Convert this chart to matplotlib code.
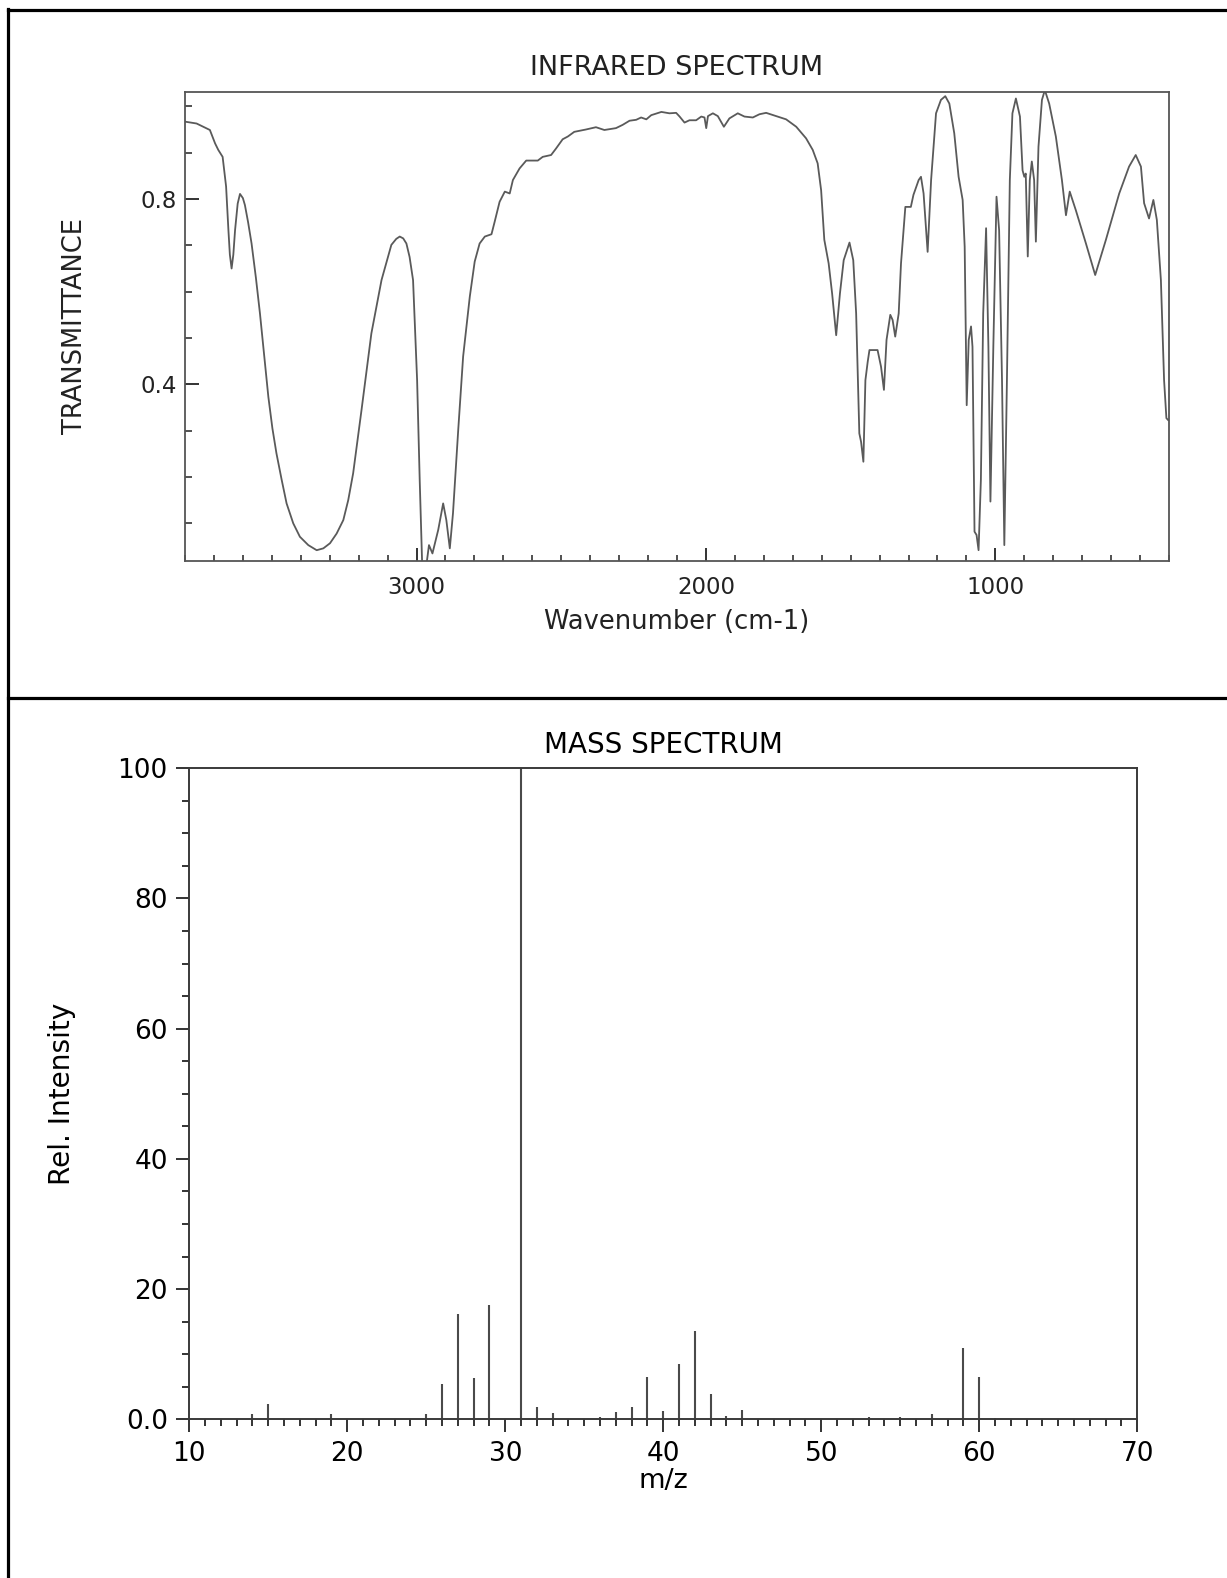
import matplotlib
matplotlib.use("Agg")
import matplotlib.pyplot as plt
from matplotlib.lines import Line2D
from matplotlib.ticker import MultipleLocator, FixedLocator, FixedFormatter

# ---------------- IR spectrum data ----------------
ir_wavenumber = [3800, 3760, 3714, 3696, 3685, 3670, 3658, 3650, 3645, 3639, 3633, 3627, 3618, 3610,
                 3600, 3593, 3582, 3570, 3555, 3541, 3527, 3512, 3498, 3484, 3466, 3449, 3426, 3403,
                 3374, 3345, 3322, 3299, 3276, 3253, 3236, 3219, 3190, 3156, 3121, 3087, 3070, 3058,
                 3046, 3035, 3024, 3012, 2998, 2989, 2980, 2968, 2957, 2945, 2925, 2908, 2897, 2885,
                 2874, 2856, 2839, 2816, 2799, 2782, 2764, 2741, 2730, 2713, 2695, 2678, 2667, 2644,
                 2621, 2581, 2564, 2535, 2518, 2495, 2477, 2455, 2415, 2380, 2351, 2311, 2288, 2264,
                 2241, 2224, 2206, 2189, 2154, 2126, 2103, 2091, 2074, 2057, 2034, 2016, 2005, 1999,
                 1993, 1976, 1959, 1938, 1919, 1890, 1867, 1838, 1815, 1792, 1757, 1723, 1688, 1654,
                 1631, 1614, 1602, 1591, 1576, 1564, 1550, 1537, 1524, 1504, 1491, 1481, 1470, 1464,
                 1456, 1449, 1441, 1435, 1407, 1395, 1385, 1376, 1363, 1355, 1346, 1334, 1326, 1311,
                 1292, 1283, 1265, 1257, 1248, 1234, 1222, 1205, 1188, 1173, 1159, 1142, 1127, 1113,
                 1106, 1099, 1092, 1084, 1079, 1072, 1065, 1058, 1050, 1042, 1032, 1024, 1017, 1007,
                 996, 987, 977, 969, 960, 950, 941, 929, 915, 906, 900, 895, 888, 881, 874, 866, 860,
                 851, 839, 829, 814, 791, 770, 756, 743, 722, 687, 655, 618, 572, 538, 515, 497, 486,
                 469, 454, 442, 428, 417, 409, 403]
ir_transmittance = [0.967, 0.963, 0.949, 0.920, 0.906, 0.891, 0.827, 0.733, 0.680, 0.650, 0.680, 0.733,
                    0.790, 0.811, 0.802, 0.787, 0.750, 0.704, 0.630, 0.553, 0.465, 0.373, 0.305, 0.251,
                    0.194, 0.143, 0.100, 0.071, 0.053, 0.042, 0.046, 0.057, 0.078, 0.107, 0.150, 0.208,
                    0.345, 0.510, 0.625, 0.701, 0.714, 0.719, 0.715, 0.704, 0.675, 0.625, 0.409, 0.193,
                    0.000, 0.000, 0.053, 0.035, 0.086, 0.143, 0.107, 0.046, 0.122, 0.301, 0.460, 0.589,
                    0.665, 0.704, 0.719, 0.724, 0.751, 0.794, 0.816, 0.812, 0.841, 0.866, 0.883, 0.883,
                    0.891, 0.895, 0.909, 0.929, 0.935, 0.945, 0.950, 0.955, 0.949, 0.953, 0.960, 0.969,
                    0.971, 0.976, 0.972, 0.981, 0.988, 0.985, 0.986, 0.978, 0.965, 0.970, 0.970, 0.978,
                    0.976, 0.953, 0.979, 0.985, 0.979, 0.956, 0.974, 0.985, 0.978, 0.976, 0.983, 0.986,
                    0.979, 0.972, 0.956, 0.931, 0.906, 0.877, 0.819, 0.712, 0.661, 0.596, 0.506, 0.596,
                    0.668, 0.706, 0.668, 0.553, 0.294, 0.276, 0.233, 0.409, 0.449, 0.474, 0.474, 0.438,
                    0.388, 0.496, 0.550, 0.539, 0.503, 0.553, 0.661, 0.783, 0.783, 0.809, 0.841, 0.848,
                    0.812, 0.686, 0.841, 0.985, 1.014, 1.022, 1.006, 0.942, 0.848, 0.798, 0.697, 0.355,
                    0.496, 0.525, 0.481, 0.082, 0.075, 0.042, 0.194, 0.553, 0.737, 0.481, 0.147, 0.481,
                    0.805, 0.733, 0.409, 0.053, 0.409, 0.841, 0.985, 1.017, 0.978, 0.862, 0.848, 0.855,
                    0.676, 0.841, 0.881, 0.841, 0.708, 0.913, 1.014, 1.035, 1.006, 0.935, 0.841, 0.765,
                    0.816, 0.776, 0.704, 0.636, 0.712, 0.812, 0.870, 0.895, 0.870, 0.791, 0.758, 0.798,
                    0.755, 0.625, 0.409, 0.327, 0.323]

ir_title = "INFRARED SPECTRUM"
ir_xlabel = "Wavenumber (cm-1)"
ir_ylabel = "TRANSMITTANCE"
ir_xticks = [3000, 2000, 1000]
ir_xticklabels = ["3000", "2000", "1000"]
ir_yticks = [0.4, 0.8]
ir_yticklabels = ["0.4", "0.8"]

# ---------------- Mass spectrum data ----------------
ms_mz = [14, 15, 19, 25, 26, 27, 28, 29, 31, 32, 33, 36, 37, 38, 39, 40, 41, 42, 43, 44, 45,
         53, 55, 57, 59, 60, 61]
ms_intensity = [0.8, 2.4, 0.8, 0.8, 5.4, 16.2, 6.3, 17.6, 100.0, 1.9, 1.0, 0.3, 1.1, 1.9, 6.5,
                1.3, 8.5, 13.5, 3.9, 0.5, 1.5, 0.3, 0.4, 0.8, 10.9, 6.5, 0.2]

ms_title = "MASS SPECTRUM"
ms_xlabel = "m/z"
ms_ylabel = "Rel. Intensity"
ms_xticks = [10, 20, 30, 40, 50, 60, 70]
ms_xticklabels = ["10", "20", "30", "40", "50", "60", "70"]
ms_yticks = [0, 20, 40, 60, 80, 100]
ms_yticklabels = ["0.0", "20", "40", "60", "80", "100"]

# ---------------- Figure ----------------
W, H = 1227, 1578
fig = plt.figure(figsize=(W / 100, H / 100), dpi=100)
fig.patch.set_facecolor("white")


def px_axes(x0, y0, x1, y1):
    return [x0 / W, 1 - y1 / H, (x1 - x0) / W, (y1 - y0) / H]


# panel borders
def border(xs, ys):
    fig.add_artist(Line2D([x / W for x in xs], [1 - y / H for y in ys],
                          color="black", lw=2.3, transform=fig.transFigure))


border([8, 1227], [9.5, 9.5])
border([8, 8], [9, 1578])
border([8, 1227], [698, 698])

# ---------------- IR axes ----------------
ir_line = "#5a5a5a"
ax1 = fig.add_axes(px_axes(185, 92, 1169, 561))
ax1.plot(ir_wavenumber, ir_transmittance, color=ir_line, lw=1.3)
ax1.set_xlim(3800, 400)
ax1.set_ylim(0.0187, 1.031)
for s in ax1.spines.values():
    s.set_color("#555555")
    s.set_linewidth(1.3)
ax1.xaxis.set_major_locator(FixedLocator(ir_xticks))
ax1.xaxis.set_major_formatter(FixedFormatter(ir_xticklabels))
ax1.xaxis.set_minor_locator(MultipleLocator(100))
ax1.yaxis.set_major_locator(FixedLocator(ir_yticks))
ax1.yaxis.set_major_formatter(FixedFormatter(ir_yticklabels))
ax1.yaxis.set_minor_locator(MultipleLocator(0.1))
ax1.tick_params(axis="both", which="both", direction="in", colors="#333333",
                labelcolor="#222222", top=False, right=False)
ax1.tick_params(axis="x", which="major", length=9.5, width=1.4, labelsize=16.5, pad=11)
ax1.tick_params(axis="x", which="minor", length=4.5, width=1.2)
ax1.tick_params(axis="y", which="major", length=10, width=1.4, labelsize=16.5, pad=6)
ax1.tick_params(axis="y", which="minor", length=5, width=1.2)
ax1.set_title(ir_title, fontsize=19.5, color="#222222", y=1.052, va="center", pad=0)
ax1.set_xlabel(ir_xlabel, fontsize=18.5, color="#222222", va="center")
ax1.xaxis.set_label_coords(0.5, -0.130)
ax1.set_ylabel(ir_ylabel, fontsize=18.5, color="#222222", va="center")
ax1.yaxis.set_label_coords(-0.112, 0.5)

# ---------------- MS axes ----------------
ax2 = fig.add_axes(px_axes(189.3, 768.3, 1137.2, 1419.3))
ax2.vlines(ms_mz, 0, ms_intensity, color="#4a4a4a", lw=1.5)
ax2.set_xlim(10, 70)
ax2.set_ylim(0, 100)
for s in ax2.spines.values():
    s.set_color("#3a3a3a")
    s.set_linewidth(1.4)
ax2.xaxis.set_major_locator(FixedLocator(ms_xticks))
ax2.xaxis.set_major_formatter(FixedFormatter(ms_xticklabels))
ax2.xaxis.set_minor_locator(MultipleLocator(1))
ax2.yaxis.set_major_locator(FixedLocator(ms_yticks))
ax2.yaxis.set_major_formatter(FixedFormatter(ms_yticklabels))
ax2.yaxis.set_minor_locator(MultipleLocator(5))
ax2.tick_params(axis="both", which="both", direction="out", colors="#333333",
                labelcolor="black", top=False, right=False)
ax2.tick_params(axis="both", which="major", length=9.5, width=1.4, labelsize=19, pad=6)
ax2.tick_params(axis="both", which="minor", length=5, width=1.4)
ax2.set_title(ms_title, fontsize=20, color="black", y=1.036, va="center", pad=0)
ax2.set_xlabel(ms_xlabel, fontsize=19.5, va="center")
ax2.xaxis.set_label_coords(0.5, -0.0948)
ax2.set_ylabel(ms_ylabel, fontsize=20.2, va="center")
ax2.yaxis.set_label_coords(-0.1338, 0.5)

fig.savefig("out.png", dpi=100, facecolor="white")
